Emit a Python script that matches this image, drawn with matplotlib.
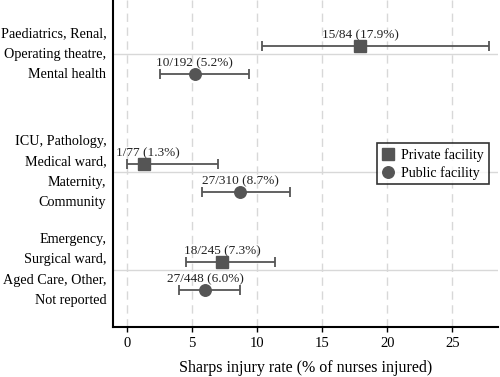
import matplotlib
matplotlib.use("Agg")
import matplotlib.pyplot as plt
from matplotlib.lines import Line2D

# ---- data ----
groups = ["Paediatrics, Renal,\nOperating theatre,\nMental health",
          "ICU, Pathology,\nMedical ward,\nMaternity,\nCommunity",
          "Emergency,\nSurgical ward,\nAged Care, Other,\nNot reported"]
private_rate = [17.9, 1.3, 7.3]
private_lo = [10.4, 0.0, 4.5]
private_hi = [27.8, 7.0, 11.4]
private_lbl = ["15/84 (17.9%)", "1/77 (1.3%)", "18/245 (7.3%)"]
public_rate = [5.2, 8.7, 6.0]
public_lo = [2.5, 5.8, 4.0]
public_hi = [9.4, 12.5, 8.7]
public_lbl = ["10/192 (5.2%)", "27/310 (8.7%)", "27/448 (6.0%)"]
xticks = [0, 5, 10, 15, 20, 25]

# ---- layout ----
group_pos = [54, 172, 270]
off_private = -8
off_public = 20
private_lbl_dx = [0, 3, 0]

plt.rcParams['font.family'] = ['Liberation Serif', 'DejaVu Serif']
fig = plt.figure(figsize=(5, 3.77), dpi=100)
ax = fig.add_axes([0.2266, 0.1326, 0.996 - 0.2266, 1 - 0.1326])
ax.set_xlim(-1.05, 28.5)
ax.set_ylim(327, 0)

col = '#555555'
py = [g + off_private for g in group_pos]
uy = [g + off_public for g in group_pos]

ax.errorbar(private_rate, py,
            xerr=[[r - l for r, l in zip(private_rate, private_lo)],
                  [h - r for r, h in zip(private_rate, private_hi)]],
            fmt='s', color=col, ecolor=col, markersize=8.3, elinewidth=1.3,
            capsize=3.5, capthick=1.3, zorder=3)
ax.errorbar(public_rate, uy,
            xerr=[[r - l for r, l in zip(public_rate, public_lo)],
                  [h - r for r, h in zip(public_rate, public_hi)]],
            fmt='o', color=col, ecolor=col, markersize=8.3, elinewidth=1.3,
            capsize=3.5, capthick=1.3, zorder=3)

for x, y, t, dx in zip(private_rate, py, private_lbl, private_lbl_dx):
    ax.annotate(t, (x, y), xytext=(dx, 3.5), textcoords='offset points',
                ha='center', va='bottom', fontsize=9.5, color='#222222',
                annotation_clip=False)
for x, y, t in zip(public_rate, uy, public_lbl):
    ax.annotate(t, (x, y), xytext=(0, 3.5), textcoords='offset points',
                ha='center', va='bottom', fontsize=9.5, color='#222222')

ax.set_xticks(xticks)
ax.set_xticklabels([str(v) for v in xticks], fontsize=10.5)
ax.set_yticks(group_pos)
ax.set_yticklabels(groups, fontsize=10.2, linespacing=1.72, va='center')
ax.tick_params(axis='y', length=0, pad=5)
ax.tick_params(axis='x', length=3.5, width=1, pad=4)

for v in xticks:
    ax.axvline(v, color='#d8d8d8', lw=1, ls=(0, (6, 4)), zorder=0)
for g in group_pos:
    ax.axhline(g, color='#d8d8d8', lw=1, zorder=0)

for s in ['top', 'right']:
    ax.spines[s].set_visible(False)
for s in ['left', 'bottom']:
    ax.spines[s].set_linewidth(1.5)
    ax.spines[s].set_color('black')

ax.set_xlabel('Sharps injury rate (% of nurses injured)', fontsize=11.5, labelpad=7)

handles = [Line2D([], [], marker='s', ls='none', color=col, markersize=8.3),
           Line2D([], [], marker='o', ls='none', color=col, markersize=8.3)]
leg = ax.legend(handles, ['Private facility', 'Public facility'],
                loc='upper left', bbox_to_anchor=(0.685, 0.563), fontsize=10.1,
                frameon=True, fancybox=False, edgecolor='black',
                handlelength=0.9, handletextpad=0.5, borderpad=0.35,
                labelspacing=0.3, borderaxespad=0)
leg.get_frame().set_linewidth(1.2)

fig.savefig('out.png', dpi=100)
